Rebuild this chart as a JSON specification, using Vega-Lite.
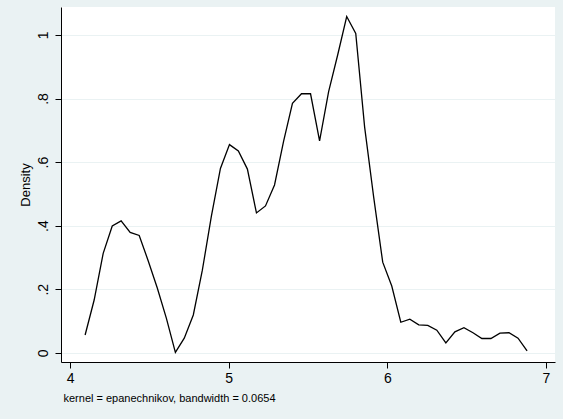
{
  "$schema": "https://vega.github.io/schema/vega-lite/v6.json",
  "width": 494,
  "height": 355,
  "autosize": {"type": "none"},
  "padding": {"left": 61, "top": 7, "right": 8, "bottom": 57},
  "background": "#EAF2F3",
  "config": {
    "font": "Liberation Sans",
    "view": {"fill": "white", "stroke": null}
  },
  "data": {
    "values": [
      {"x": 4.095, "density": 0.056},
      {"x": 4.152, "density": 0.166},
      {"x": 4.209, "density": 0.313},
      {"x": 4.266, "density": 0.399},
      {"x": 4.322, "density": 0.415},
      {"x": 4.379, "density": 0.379},
      {"x": 4.436, "density": 0.369},
      {"x": 4.493, "density": 0.289},
      {"x": 4.550, "density": 0.204},
      {"x": 4.607, "density": 0.109},
      {"x": 4.664, "density": 0.001},
      {"x": 4.720, "density": 0.046},
      {"x": 4.777, "density": 0.119},
      {"x": 4.834, "density": 0.26},
      {"x": 4.891, "density": 0.43},
      {"x": 4.948, "density": 0.58},
      {"x": 5.005, "density": 0.655},
      {"x": 5.061, "density": 0.635},
      {"x": 5.118, "density": 0.578},
      {"x": 5.175, "density": 0.44},
      {"x": 5.232, "density": 0.462},
      {"x": 5.289, "density": 0.528},
      {"x": 5.346, "density": 0.665},
      {"x": 5.402, "density": 0.785},
      {"x": 5.459, "density": 0.815},
      {"x": 5.516, "density": 0.815},
      {"x": 5.573, "density": 0.667},
      {"x": 5.630, "density": 0.822},
      {"x": 5.687, "density": 0.937},
      {"x": 5.744, "density": 1.058},
      {"x": 5.801, "density": 1.005},
      {"x": 5.857, "density": 0.71},
      {"x": 5.914, "density": 0.49},
      {"x": 5.971, "density": 0.285},
      {"x": 6.028, "density": 0.21},
      {"x": 6.085, "density": 0.096},
      {"x": 6.142, "density": 0.106},
      {"x": 6.198, "density": 0.088},
      {"x": 6.255, "density": 0.086},
      {"x": 6.312, "density": 0.071},
      {"x": 6.369, "density": 0.031},
      {"x": 6.426, "density": 0.066},
      {"x": 6.483, "density": 0.079},
      {"x": 6.540, "density": 0.063},
      {"x": 6.596, "density": 0.045},
      {"x": 6.653, "density": 0.045},
      {"x": 6.710, "density": 0.062},
      {"x": 6.767, "density": 0.063},
      {"x": 6.824, "density": 0.046},
      {"x": 6.881, "density": 0.006}
    ]
  },
  "mark": {"type": "line", "color": "black", "strokeWidth": 1.3},
  "encoding": {
    "x": {
      "field": "x",
      "type": "quantitative",
      "scale": {"domain": [3.943, 7.057], "nice": false, "zero": false},
      "axis": {
        "values": [4, 5, 6, 7],
        "format": "d",
        "grid": false,
        "domainColor": "black",
        "domainWidth": 1,
        "tickColor": "black",
        "tickSize": 6,
        "labelFontSize": 14,
        "labelColor": "black",
        "labelPadding": 3,
        "title": "kernel = epanechnikov, bandwidth = 0.0654",
        "titleFontSize": 11,
        "titleFontWeight": "normal",
        "titleColor": "black",
        "titleAnchor": "start",
        "titleAlign": "left",
        "titleX": 2,
        "titleY": 30
      }
    },
    "y": {
      "field": "density",
      "type": "quantitative",
      "scale": {"domain": [-0.029, 1.088], "nice": false, "zero": false},
      "axis": {
        "values": [0, 0.2, 0.4, 0.6, 0.8, 1],
        "labelExpr": "datum.value == 0 ? '0' : datum.value == 1 ? '1' : replace(format(datum.value, '.1f'), '0.', '.')",
        "grid": true,
        "gridColor": "#EAF2F3",
        "gridWidth": 1,
        "domainColor": "black",
        "domainWidth": 1,
        "tickColor": "black",
        "tickSize": 6,
        "labelAngle": -90,
        "labelAlign": "center",
        "labelBaseline": "bottom",
        "labelFontSize": 14,
        "labelColor": "black",
        "labelPadding": 5,
        "title": "Density",
        "titleFontSize": 13,
        "titleFontWeight": "normal",
        "titleColor": "black",
        "titlePadding": 4
      }
    }
  }
}
